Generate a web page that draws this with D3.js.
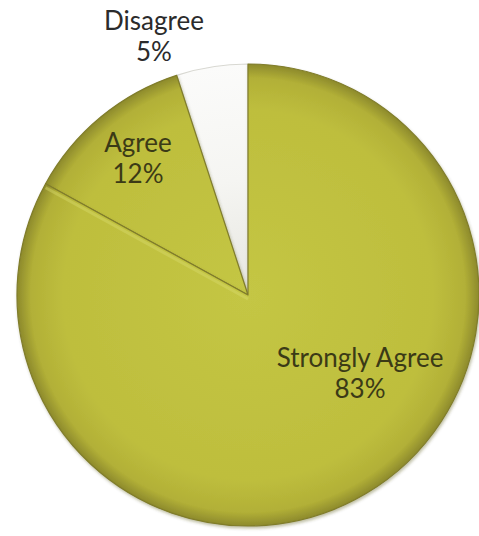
<!DOCTYPE html>
<html>
<head>
<meta charset="utf-8">
<script src="https://cdn.jsdelivr.net/npm/d3@7"></script>
<style>
  html, body { margin: 0; padding: 0; background: #ffffff; }
  svg { display: block; }
</style>
</head>
<body>
<div id="chart"></div>
<script>
// ---- data ----
const categories = ["Strongly Agree", "Agree", "Disagree"];
const values = [83, 12, 5];
const percentLabels = ["83%", "12%", "5%"];

// ---- layout ----
const W = 479, H = 536;
const cx = 248, cy = 295, R = 231;
const sliceFill = ["url(#gOlive)", "url(#gOlive)", "url(#gWhite)"];
const sliceStroke = ["#807d2c", "#807d2c", "#d8d8d2"];
// label centers (x, first-line baseline)
const labelPos = [[360, 367], [138, 152], [154, 30]];
const labelColor = ["#3b3a16", "#3b3a16", "#2b2b2b"];

const svg = d3.select("#chart").append("svg")
  .attr("width", W).attr("height", H);

const defs = svg.append("defs");
const g1 = defs.append("radialGradient").attr("id", "gOlive")
  .attr("gradientUnits", "userSpaceOnUse")
  .attr("cx", 0).attr("cy", 0).attr("r", R);
g1.append("stop").attr("offset", "0%").attr("stop-color", "#c4c644");
g1.append("stop").attr("offset", "80%").attr("stop-color", "#bebe3d");
g1.append("stop").attr("offset", "94%").attr("stop-color", "#b2b037");
g1.append("stop").attr("offset", "100%").attr("stop-color", "#8d8a2c");

const g2 = defs.append("radialGradient").attr("id", "gWhite")
  .attr("gradientUnits", "userSpaceOnUse")
  .attr("cx", 0).attr("cy", 0).attr("r", R);
g2.append("stop").attr("offset", "0%").attr("stop-color", "#e6e6e0");
g2.append("stop").attr("offset", "50%").attr("stop-color", "#f5f5f2");
g2.append("stop").attr("offset", "100%").attr("stop-color", "#fbfbfa");

const f = defs.append("filter").attr("id", "sh")
  .attr("x", "-10%").attr("y", "-10%").attr("width", "120%").attr("height", "120%");
f.append("feDropShadow").attr("dx", 1).attr("dy", 2).attr("stdDeviation", 1.5)
  .attr("flood-color", "#4a4a10").attr("flood-opacity", 0.35);

const pie = d3.pie().sort(null).value(d => d)(values);
const arc = d3.arc().innerRadius(0).outerRadius(R);

const gPie = svg.append("g").attr("transform", `translate(${cx},${cy})`);
// draw later slices first so the big slice sits on top
gPie.selectAll("path.slice")
  .data(pie.map((d, i) => ({ d, i })).reverse())
  .join("path")
  .attr("class", "slice")
  .attr("d", o => arc(o.d))
  .attr("fill", o => sliceFill[o.i])
  .attr("stroke", o => sliceStroke[o.i])
  .attr("stroke-width", 1.2)
  .attr("stroke-linejoin", "round")
  .attr("filter", o => o.i === 2 ? null : "url(#sh)");

// soft highlight along Agree / Strongly Agree boundary
const bAng = pie[0].endAngle;
gPie.append("path")
  .attr("d", d3.line()([[0, 0], [R * Math.sin(bAng), -R * Math.cos(bAng)]]))
  .attr("stroke", "#d8da6a").attr("stroke-width", 3).attr("opacity", 0.45)
  .attr("transform", "translate(0,4)");

// ---- labels ----
const lab = svg.append("g")
  .attr("font-family", "Lato, 'Open Sans', sans-serif")
  .attr("font-size", 26)
  .attr("text-anchor", "middle");
categories.forEach((c, i) => {
  const t = lab.append("text")
    .attr("x", labelPos[i][0]).attr("y", labelPos[i][1])
    .attr("fill", labelColor[i]);
  t.append("tspan").attr("x", labelPos[i][0]).text(c);
  t.append("tspan").attr("x", labelPos[i][0]).attr("dy", 31).text(percentLabels[i]);
});
</script>
</body>
</html>
